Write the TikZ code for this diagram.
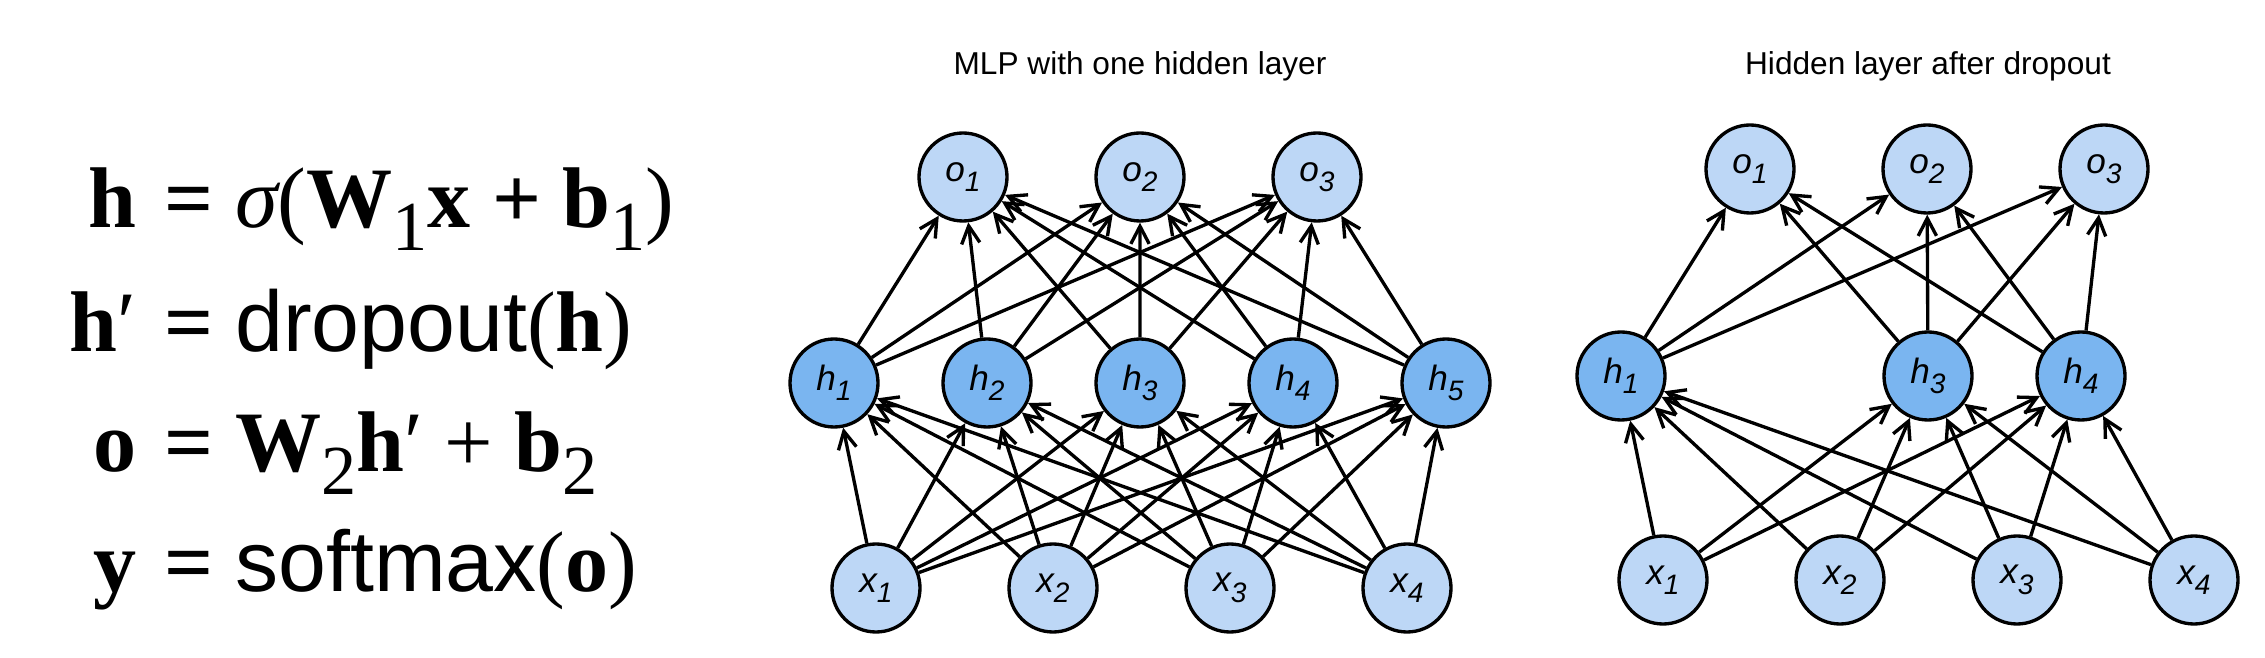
\documentclass[tikz,border=0pt]{standalone}
\usepackage{fontspec}
\setmainfont{Liberation Serif}
\newfontfamily\arialfont{Liberation Sans}
\usetikzlibrary{arrows.meta}

\definecolor{inblue}{RGB}{189,215,246}
\definecolor{hidblue}{RGB}{122,181,240}
\newcommand{\lsub}[1]{\raisebox{-3pt}{\fontsize{8}{9}\selectfont #1}}
\newcommand{\esub}[1]{\raisebox{-6.5pt}{\normalfont\fontsize{20}{21}\selectfont #1}}
\newcommand{\eqsign}{{\bfseries =}}

\begin{document}
\begin{tikzpicture}[->,>={Straight Barb[length=5pt,width=5.2pt]},line width=0.95pt,
                    node distance=1.77cm]
  \tikzstyle{unit}=[circle,draw,minimum size=0.88cm,inner sep=0pt,
                    font={\arialfont\itshape\fontsize{10}{11}\selectfont}]
  \tikzstyle{outunit}=[unit,fill=inblue]
  \tikzstyle{hidunit}=[unit,fill=hidblue]
  \tikzstyle{eqline}=[inner sep=0pt,font={\fontsize{24.5}{28}\selectfont}]

  \useasboundingbox (0,0) rectangle (22.65,6.58);

  \node[eqline,anchor=base east] (eq1l) at (1.38,4.30) {\bfseries h};
  \node[eqline,anchor=base west] (eq1r) at (1.63,4.30) {\eqsign{} \itshape σ\upshape(\bfseries W\esub{1}x + b\esub{1}\normalfont)};
  \node[eqline,anchor=base east] (eq2l) at (1.38,3.06) {\bfseries h\normalfont ′};
  \node[eqline,anchor=base west] (eq2r) at (1.63,3.06) {\eqsign{} {\arialfont dropout}({\bfseries h})};
  \node[eqline,anchor=base east] (eq3l) at (1.38,1.86) {\bfseries o};
  \node[eqline,anchor=base west] (eq3r) at (1.63,1.86) {\eqsign{} \bfseries W\esub{2}h\normalfont ′ + \bfseries b\esub{2}};
  \node[eqline,anchor=base east] (eq4l) at (1.38,0.66) {\bfseries y};
  \node[eqline,anchor=base west] (eq4r) at (1.63,0.66) {\eqsign{} {\arialfont softmax}({\bfseries o})};

  \node[font={\arialfont\fontsize{9}{10}\selectfont}] (title) at (11.40,5.92) {MLP with one hidden layer};
  \node[outunit]                    (o1) at (9.63,4.81) {o\lsub{1}};
  \node[outunit]                    (o2) [right of=o1] {o\lsub{2}};
  \node[outunit]                    (o3) [right of=o2] {o\lsub{3}};
  \node[hidunit]                    (h1) at (8.34,2.75) {h\lsub{1}};
  \node[hidunit]                    (h2) [right of=h1, node distance=1.53cm] {h\lsub{2}};
  \node[hidunit]                    (h3) [right of=h2, node distance=1.53cm] {h\lsub{3}};
  \node[hidunit]                    (h4) [right of=h3, node distance=1.53cm] {h\lsub{4}};
  \node[hidunit]                    (h5) [right of=h4, node distance=1.53cm] {h\lsub{5}};
  \node[outunit]                    (x1) at (8.76,0.70) {x\lsub{1}};
  \node[outunit]                    (x2) [right of=x1] {x\lsub{2}};
  \node[outunit]                    (x3) [right of=x2] {x\lsub{3}};
  \node[outunit]                    (x4) [right of=x3] {x\lsub{4}};

  \node[font={\arialfont\fontsize{9}{10}\selectfont}] (dtitle) at (19.28,5.92) {Hidden layer after dropout};
  \node[outunit]                    (do1) at (17.50,4.89) {o\lsub{1}};
  \node[outunit]                    (do2) [right of=do1] {o\lsub{2}};
  \node[outunit]                    (do3) [right of=do2] {o\lsub{3}};
  \node[hidunit]                    (dh1) at (16.21,2.82) {h\lsub{1}};
  \node[hidunit]                    (dh3) [right of=dh1, node distance=3.07cm] {h\lsub{3}};
  \node[hidunit]                    (dh4) [right of=dh3, node distance=1.53cm] {h\lsub{4}};
  \node[outunit]                    (dx1) at (16.63,0.78) {x\lsub{1}};
  \node[outunit]                    (dx2) [right of=dx1] {x\lsub{2}};
  \node[outunit]                    (dx3) [right of=dx2] {x\lsub{3}};
  \node[outunit]                    (dx4) [right of=dx3] {x\lsub{4}};

  \foreach \i in {1,...,4} \foreach \j in {1,...,5} \path (x\i) edge (h\j);
  \foreach \j in {1,...,5} \foreach \k in {1,2,3} \path (h\j) edge (o\k);
  \foreach \i in {1,...,4} \foreach \j in {1,3,4} \path (dx\i) edge (dh\j);
  \foreach \j in {1,3,4} \foreach \k in {1,2,3} \path (dh\j) edge (do\k);
\end{tikzpicture}
\end{document}
